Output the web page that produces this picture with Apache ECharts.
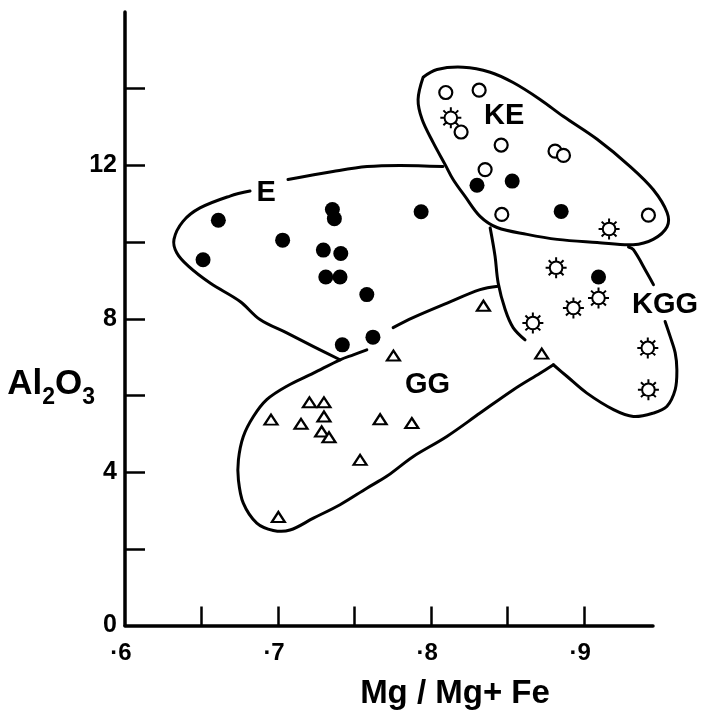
<!DOCTYPE html>
<html>
<head>
<meta charset="utf-8">
<script src="https://cdn.jsdelivr.net/npm/echarts@6/dist/echarts.min.js"></script>
<style>html,body{margin:0;padding:0;background:#fff}#c{width:705px;height:712px}</style>
</head>
<body>
<div id="c"></div>
<script>
// ---- data (x = Mg/Mg+Fe, y = Al2O3) ----
var eFilled = [[0.661,10.57],[0.651,9.54],[0.703,10.05],[0.7355,10.85],[0.7368,10.61],[0.7296,9.79],[0.741,9.70],[0.7312,9.09],[0.7405,9.09],[0.758,8.63],[0.742,7.32],[0.762,7.52],[0.7935,10.79],[0.830,11.48],[0.853,11.59],[0.885,10.80],[0.9094,9.09]];
var keOpen = [[0.8096,13.90],[0.8314,13.96],[0.8196,12.87],[0.8458,12.53],[0.8353,11.89],[0.881,12.37],[0.8865,12.26],[0.8462,10.72],[0.942,10.70]];
var kggStar = [[0.8129,13.24],[0.9163,10.34],[0.8817,9.33],[0.893,8.28],[0.9094,8.54],[0.8665,7.89],[0.9416,7.24],[0.942,6.15]];
var ggTri = [[0.6954,5.37],[0.7205,5.82],[0.730,5.82],[0.715,5.26],[0.730,5.45],[0.7285,5.06],[0.7333,4.91],[0.7536,4.32],[0.7667,5.38],[0.7002,2.83],[0.7754,7.04],[0.8342,8.34],[0.8723,7.09],[0.7874,5.28]];

// field outlines
var keOutline = [[0.7948,14.30],[0.8039,14.50],[0.8209,14.56],[0.8386,14.43],[0.8536,14.16],[0.8712,13.72],[0.8863,13.28],[0.9085,12.68],[0.9301,11.97],[0.9451,11.37],[0.9542,10.77],[0.9542,10.40],[0.9451,10.07],[0.9320,9.93],[0.9085,9.99],[0.8824,10.07],[0.8627,10.20],[0.8431,10.38],[0.8320,10.67],[0.8222,11.19],[0.8144,11.63],[0.8092,12.02],[0.8013,12.60],[0.7941,13.20],[0.7915,13.72],[0.7948,14.30]];
var eOutlineA = [[0.7405,6.93],[0.7229,7.28],[0.7057,7.63],[0.6882,7.98],[0.6752,8.45],[0.6556,8.93],[0.6414,9.37],[0.6338,9.72],[0.6320,10.07],[0.6379,10.54],[0.6490,10.89],[0.6686,11.20],[0.6817,11.33]];
var eOutlineB = [[0.7065,11.63],[0.7359,11.84],[0.7582,11.97],[0.7797,12.00],[0.8078,11.97]];
var ggTopRight = [[0.7752,7.77],[0.7882,8.03],[0.8105,8.41],[0.8320,8.76],[0.8438,8.85]];
var ggMain = [[0.7580,7.19],[0.7492,7.06],[0.7405,6.93],[0.7231,6.58],[0.7057,6.24],[0.6926,5.89],[0.6839,5.45],[0.6773,4.93],[0.6741,4.32],[0.6741,3.80],[0.6773,3.19],[0.6861,2.67],[0.6969,2.48],[0.7078,2.49],[0.7231,2.80],[0.7405,3.15],[0.7580,3.58],[0.7710,3.89],[0.7797,4.15],[0.7884,4.41],[0.8103,4.93],[0.8320,5.54],[0.8538,6.15],[0.8712,6.58],[0.8799,6.80]];
var kggLower = [[0.8799,6.80],[0.8887,6.50],[0.9018,6.06],[0.9192,5.63],[0.9322,5.45],[0.9453,5.54],[0.9540,5.71],[0.9595,6.15],[0.9606,6.67],[0.9595,7.11],[0.9562,7.54],[0.9529,7.93]];
var kggUpper = [[0.9453,8.89],[0.9410,9.20],[0.9322,9.80],[0.9290,9.87]];
var kggLeft = [[0.8386,10.37],[0.8418,9.63],[0.8438,8.94],[0.8484,8.24],[0.8536,7.77],[0.8614,7.45]];

var fieldNames = ['E','KE','GG','KGG'];
var fieldLabelPos = [[0.6922,11.29],[0.8477,13.30],[0.7977,6.28],[0.9529,8.37]];

// axes
var xTickValues = [0.65,0.7,0.75,0.8,0.85,0.9];
var xLabelValues = [0.6,0.7,0.8,0.9];
var xLabelDigits = ['6','7','8','9'];
var yTickValues = [2,4,6,8,10,12,14];
var yLabelValues = [0,4,8,12];

var FONT = '"Liberation Sans", Arial, Helvetica, sans-serif';
var starPath = 'path://M16,10 A6,6 0 1,1 4,10 A6,6 0 1,1 16,10 Z M10,0 L10,4 M10,16 L10,20 M0,10 L4,10 M16,10 L20,10 M2.93,2.93 L5.76,5.76 M14.24,14.24 L17.07,17.07 M17.07,2.93 L14.24,5.76 M5.76,14.24 L2.93,17.07';

var outlines = [keOutline, eOutlineA, eOutlineB, ggTopRight, ggMain, kggLower, kggUpper, kggLeft];
var outlineData = outlines.map(function(o, i){ return [o[0][0], o[0][1], i]; });

var chart = echarts.init(document.getElementById('c'), null, {renderer:'canvas'});
var labelData = fieldNames.map(function(n,i){ return {name:n, value:fieldLabelPos[i]}; });

chart.setOption({
  animation:false,
  backgroundColor:'#fff',
  grid:{left:125, right:52, top:12, bottom:86.5, containLabel:false, outerBoundsMode:'none'},
  xAxis:{
    type:'value', min:0.6, max:0.945,
    name:'Mg / Mg+ Fe', nameLocation:'middle', nameGap:52,
    nameTextStyle:{fontFamily:FONT, fontWeight:'bold', fontSize:33, color:'#000', padding:[0,0,0,132]},
    axisLine:{show:true, onZero:false, lineStyle:{color:'#000', width:3.5}},
    axisTick:{show:true, inside:true, length:19, customValues:xTickValues, lineStyle:{color:'#000', width:2.5}},
    axisLabel:{show:true, customValues:xLabelValues, margin:16,
      formatter:function(v){
        var k=-1; for(var i=0;i<xLabelValues.length;i++){ if(Math.abs(xLabelValues[i]-v)<1e-6) k=i; }
        if(k<0) return '';
        return '{d|·}{n|'+xLabelDigits[k]+'}{h|·}';
      },
      rich:{
        d:{fontFamily:FONT, fontWeight:'bold', fontSize:24, color:'#000'},
        n:{fontFamily:FONT, fontWeight:'bold', fontSize:24, color:'#000'},
        h:{fontFamily:FONT, fontWeight:'bold', fontSize:24, color:'rgba(0,0,0,0)'}
      }},
    splitLine:{show:false}
  },
  yAxis:{
    type:'value', min:0, max:16,
    name:'{a|Al}{s|2}{a|O}{s|3}', nameLocation:'middle', nameRotate:0, nameGap:30, nameMoveOverlap:false,
    nameTextStyle:{padding:[132,0,0,0], rich:{
      a:{fontFamily:FONT, fontWeight:'bold', fontSize:35, color:'#000'},
      s:{fontFamily:FONT, fontWeight:'bold', fontSize:23, color:'#000', padding:[26,0,0,0]}
    }},
    axisLine:{show:true, onZero:false, lineStyle:{color:'#000', width:3.5}},
    axisTick:{show:true, inside:true, length:20, customValues:yTickValues, lineStyle:{color:'#000', width:2.5}},
    axisLabel:{show:true, customValues:yLabelValues, margin:8, fontFamily:FONT, fontWeight:'bold', fontSize:25, color:'#000'},
    splitLine:{show:false}
  },
  series:[
    {type:'custom', coordinateSystem:'cartesian2d', data:outlineData, clip:false, silent:true, z:2,
      renderItem:function(params, api){
        var pts = outlines[api.value(2)].map(function(p){ return api.coord(p); });
        return {type:'polyline', shape:{points:pts, smooth:0.35},
          style:{stroke:'#000', lineWidth:3, fill:null, lineJoin:'round', lineCap:'round'}};
      }},
    {type:'scatter', name:'KGG', data:kggStar, symbol:starPath, symbolSize:21, symbolKeepAspect:true, clip:false, silent:true, z:3,
      itemStyle:{color:'#fff', borderColor:'#000', borderWidth:2, opacity:1}},
    {type:'scatter', name:'KE', data:keOpen, symbol:'circle', symbolSize:13, clip:false, silent:true, z:4,
      itemStyle:{color:'#fff', borderColor:'#000', borderWidth:2.2, opacity:1}},
    {type:'scatter', name:'GG', data:ggTri, symbol:'triangle', symbolSize:[13,10], clip:false, silent:true, z:4,
      itemStyle:{color:'#fff', borderColor:'#000', borderWidth:2.2, opacity:1}},
    {type:'scatter', name:'E', data:eFilled, symbol:'circle', symbolSize:15, clip:false, silent:true, z:5,
      itemStyle:{color:'#000', opacity:1}},
    {type:'scatter', name:'labels', data:labelData, symbolSize:0, clip:false, silent:true, z:6,
      itemStyle:{opacity:1},
      label:{show:true, position:'inside', formatter:'{b}', fontFamily:FONT, fontWeight:'bold', fontSize:29, color:'#000', opacity:1}}
  ]
});
</script>
</body>
</html>
